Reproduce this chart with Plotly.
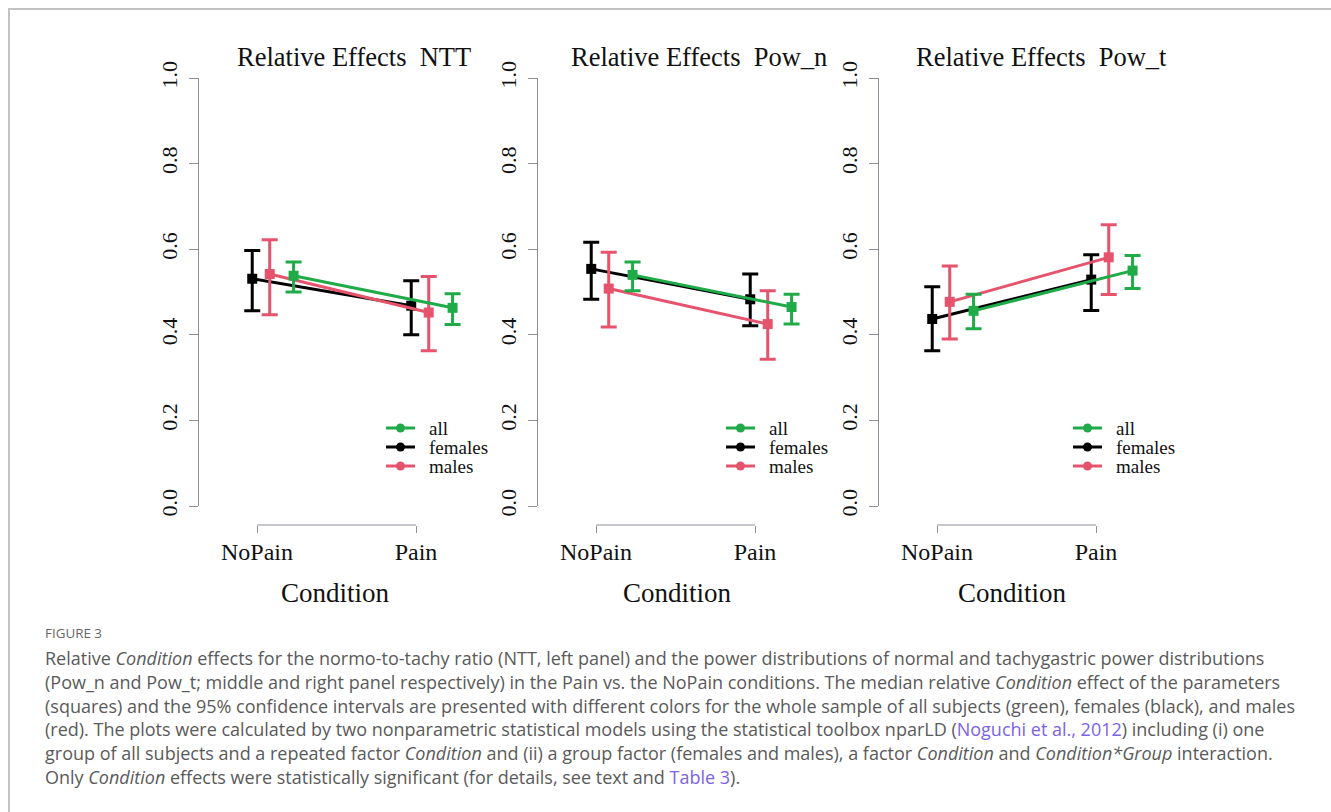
import plotly.graph_objects as go

W, H = 1331, 812

# ---------------- data ----------------
conditions = ["NoPain", "Pain"]
groups = ["females", "males", "all"]
panel_titles = ["Relative Effects\u00a0\u00a0NTT", "Relative Effects\u00a0\u00a0Pow_n", "Relative Effects\u00a0\u00a0Pow_t"]

# NTT
ntt_females = [0.531, 0.468]
ntt_females_lo = [0.456, 0.400]
ntt_females_hi = [0.597, 0.526]
ntt_males = [0.542, 0.452]
ntt_males_lo = [0.447, 0.363]
ntt_males_hi = [0.622, 0.536]
ntt_all = [0.538, 0.463]
ntt_all_lo = [0.500, 0.424]
ntt_all_hi = [0.570, 0.496]

# Pow_n
pown_females = [0.554, 0.483]
pown_females_lo = [0.483, 0.421]
pown_females_hi = [0.616, 0.542]
pown_males = [0.508, 0.425]
pown_males_lo = [0.418, 0.343]
pown_males_hi = [0.593, 0.503]
pown_all = [0.540, 0.465]
pown_all_lo = [0.503, 0.425]
pown_all_hi = [0.570, 0.495]

# Pow_t
powt_females = [0.437, 0.529]
powt_females_lo = [0.363, 0.457]
powt_females_hi = [0.512, 0.587]
powt_males = [0.477, 0.581]
powt_males_lo = [0.390, 0.494]
powt_males_hi = [0.561, 0.657]
powt_all = [0.456, 0.550]
powt_all_lo = [0.414, 0.508]
powt_all_hi = [0.495, 0.585]

y_ticks = [0.0, 0.2, 0.4, 0.6, 0.8, 1.0]

panels = [
    {"females": (ntt_females, ntt_females_lo, ntt_females_hi),
     "males": (ntt_males, ntt_males_lo, ntt_males_hi),
     "all": (ntt_all, ntt_all_lo, ntt_all_hi)},
    {"females": (pown_females, pown_females_lo, pown_females_hi),
     "males": (pown_males, pown_males_lo, pown_males_hi),
     "all": (pown_all, pown_all_lo, pown_all_hi)},
    {"females": (powt_females, powt_females_lo, powt_females_hi),
     "males": (powt_males, powt_males_lo, powt_males_hi),
     "all": (powt_all, powt_all_lo, powt_all_hi)},
]

# ---------------- style ----------------
colors = {"all": "#1fab48", "females": "#000000", "males": "#e5546c"}
x_offset = {"females": -0.03, "males": 0.08, "all": 0.23}
legend_order = ["all", "females", "males"]
axis_color = "#8f8f9c"
serif = "Liberation Serif, Times New Roman, serif"


def px(x):
    return x / W


def py(y):
    return 1 - y / H


axis_px = [199, 538, 879]
title_cx = [354, 699, 1041]
cond_cx = [335, 677, 1012]
legend_px = [386, 726, 1073]
px_per_unit = 159.0
tick_gap = 58.0
plot_w = 290.0

fig = go.Figure()
shapes = []
annotations = []

for i, pdata in enumerate(panels):
    n = "" if i == 0 else str(i + 1)
    xa, ya = "x" + n, "y" + n
    for g in groups:
        vals, lo, hi = pdata[g]
        xs = [k + 1 + x_offset[g] for k in range(len(conditions))]
        fig.add_trace(go.Scatter(
            x=xs, y=vals, xaxis=xa, yaxis=ya, mode="lines+markers",
            line=dict(color=colors[g], width=3),
            marker=dict(symbol="square", size=10, color=colors[g]),
            error_y=dict(type="data", symmetric=False,
                         array=[h - v for h, v in zip(hi, vals)],
                         arrayminus=[v - l for v, l in zip(vals, lo)],
                         color=colors[g], thickness=3, width=8),
            showlegend=False, hoverinfo="skip"))

    x0 = 1 - tick_gap / px_per_unit
    fig.layout["xaxis" + n] = dict(
        domain=[px(axis_px[i]), px(axis_px[i] + plot_w)],
        range=[x0, x0 + plot_w / px_per_unit],
        anchor="free", position=py(525),
        tickmode="array", tickvals=[1, 2], ticktext=conditions,
        ticks="outside", ticklen=7, tickcolor=axis_color, tickwidth=1,
        showline=False, showgrid=False, zeroline=False,
        tickfont=dict(family=serif, size=24, color="#111"),
        ticklabelstandoff=-2, automargin=False,
    )
    fig.layout["yaxis" + n] = dict(
        domain=[py(506), py(78)], range=[0, 1],
        anchor=xa,
        tickmode="array", tickvals=y_ticks,
        ticktext=["%.1f" % t for t in y_ticks],
        ticks="outside", ticklen=9, tickcolor=axis_color, tickwidth=1,
        showline=True, linecolor=axis_color, linewidth=1,
        showgrid=False, zeroline=False, tickangle=-90,
        tickfont=dict(family=serif, size=22, color="#111"),
        ticklabelstandoff=3, automargin=False,
    )
    # x axis line spanning the tick range (R style)
    shapes.append(dict(type="line", xref=xa, yref="paper",
                       x0=1, x1=2, y0=py(525), y1=py(525),
                       line=dict(color=axis_color, width=1)))
    # panel title
    annotations.append(dict(text=panel_titles[i], x=px(title_cx[i]), y=py(57),
                            xref="paper", yref="paper", showarrow=False,
                            xanchor="center", yanchor="middle",
                            font=dict(family=serif, size=26.5, color="#111")))
    # axis title
    annotations.append(dict(text="Condition", x=px(cond_cx[i]), y=py(593),
                            xref="paper", yref="paper", showarrow=False,
                            xanchor="center", yanchor="middle",
                            font=dict(family=serif, size=27, color="#111")))
    # legend
    for j, g in enumerate(legend_order):
        yy = py(428 + 19 * j)
        shapes.append(dict(type="line", xref="paper", yref="paper",
                           x0=px(legend_px[i]), x1=px(legend_px[i] + 29),
                           y0=yy, y1=yy, line=dict(color=colors[g], width=3)))
        shapes.append(dict(type="circle", xref="paper", yref="paper",
                           x0=px(legend_px[i] + 14.5 - 4.5), x1=px(legend_px[i] + 14.5 + 4.5),
                           y0=yy - 4.5 / H, y1=yy + 4.5 / H,
                           fillcolor=colors[g], line=dict(color=colors[g], width=0)))
        annotations.append(dict(text=g, x=px(legend_px[i] + 41), y=yy,
                                xref="paper", yref="paper", showarrow=False,
                                xanchor="left", yanchor="middle",
                                font=dict(family=serif, size=19, color="#111")))

# frame
shapes.append(dict(type="rect", xref="paper", yref="paper",
                   x0=px(9), x1=px(1345), y0=py(830), y1=py(9),
                   line=dict(color="#c2c2c2", width=2), layer="below"))

# caption
cap_font = "Open Sans, Noto Sans, sans-serif"
link = "#7a63e8"
annotations.append(dict(text="FIGURE 3", x=px(43), y=py(633), xref="paper", yref="paper",
                        showarrow=False, xanchor="left", yanchor="middle",
                        font=dict(family=cap_font, size=13.4, color="#666")))
cap_lines = [
    "Relative <i>Condition</i> effects for the normo-to-tachy ratio (NTT, left panel) and the power distributions of normal and tachygastric power distributions",
    "(Pow_n and Pow_t; middle and right panel respectively) in the Pain vs. the NoPain conditions. The median relative <i>Condition</i> effect of the parameters",
    "(squares) and the 95% confidence intervals are presented with different colors for the whole sample of all subjects (green), females (black), and males",
    "(red). The plots were calculated by two nonparametric statistical models using the statistical toolbox nparLD (<span style='color:%s'>Noguchi et al., 2012</span>) including (i) one" % link,
    "group of all subjects and a repeated factor <i>Condition</i> and (ii) a group factor (females and males), a factor <i>Condition</i> and <i>Condition*Group</i> interaction.",
    "Only <i>Condition</i> effects were statistically significant (for details, see text and <span style='color:%s'>Table 3</span>)." % link,
]
for k, t in enumerate(cap_lines):
    annotations.append(dict(text=t, x=px(43), y=py(658 + 23.8 * k), xref="paper", yref="paper",
                            showarrow=False, xanchor="left", yanchor="middle",
                            font=dict(family=cap_font, size=18, color="#5a5a5a")))

fig.update_layout(
    width=W, height=H,
    margin=dict(l=0, r=0, t=0, b=0, autoexpand=False),
    paper_bgcolor="white", plot_bgcolor="white",
    shapes=shapes, annotations=annotations, showlegend=False,
)

fig.write_html("out.html")
